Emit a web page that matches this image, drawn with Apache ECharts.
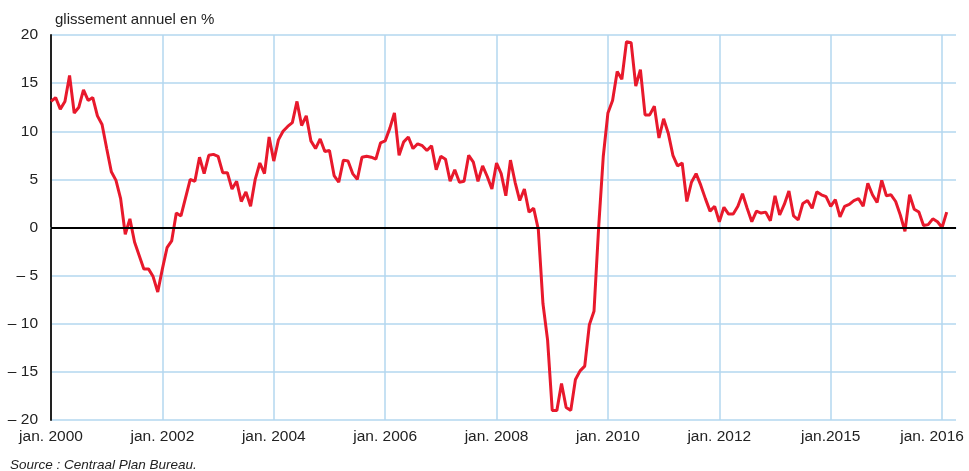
<!DOCTYPE html>
<html>
<head>
<meta charset="utf-8">
<script src="https://cdn.jsdelivr.net/npm/echarts@6/dist/echarts.min.js"></script>
<style>
  html, body { margin: 0; padding: 0; background: #fff; }
  #chart { width: 969px; height: 471px; }
</style>
</head>
<body>
<div id="chart"></div>
<script>
// glissement annuel (%), mensuel, jan. 2000 -> fév. 2016
var values = [
  13.1, 13.5, 12.3, 13.1, 15.8, 11.9, 12.5, 14.3, 13.2, 13.5, 11.6, 10.7,
  8.2, 5.8, 4.9, 3.0, -0.7, 0.9, -1.5, -2.9, -4.3, -4.3, -5.1, -6.7,
  -4.3, -2.1, -1.4, 1.5, 1.2, 3.1, 5.0, 4.8, 7.3, 5.6, 7.5, 7.6,
  7.4, 5.7, 5.7, 4.0, 4.8, 2.7, 3.7, 2.2, 5.0, 6.7, 5.6, 9.4,
  6.9, 9.1, 10.0, 10.5, 10.9, 13.1, 10.6, 11.6, 9.0, 8.2, 9.2, 7.9,
  8.0, 5.4, 4.7, 7.0, 6.9, 5.6, 5.0, 7.3, 7.4, 7.3, 7.1, 8.8,
  9.0, 10.3, 11.9, 7.5, 8.9, 9.4, 8.2, 8.7, 8.5, 8.0, 8.5, 6.0,
  7.4, 7.1, 4.8, 6.0, 4.7, 4.8, 7.5, 6.8, 4.8, 6.4, 5.3, 4.0,
  6.7, 5.6, 3.3, 7.0, 4.7, 2.8, 4.0, 1.6, 2.0, -0.2, -7.9, -11.7,
  -19.0, -19.0, -16.2, -18.7, -19.0, -15.8, -14.9, -14.4, -10.1, -8.7, 0.0, 7.4,
  11.9, 13.2, 16.2, 15.4, 19.3, 19.2, 14.7, 16.4, 11.7, 11.7, 12.6, 9.3,
  11.3, 9.8, 7.5, 6.4, 6.7, 2.7, 4.7, 5.6, 4.4, 3.0, 1.7, 2.2,
  0.6, 2.1, 1.4, 1.4, 2.2, 3.5, 2.0, 0.6, 1.7, 1.5, 1.6, 0.7,
  3.3, 1.3, 2.4, 3.8, 1.2, 0.8, 2.5, 2.8, 2.0, 3.7, 3.4, 3.2,
  2.2, 2.9, 1.1, 2.2, 2.4, 2.8, 3.0, 2.2, 4.6, 3.4, 2.6, 4.9,
  3.3, 3.4, 2.7, 1.3, -0.4, 3.4, 1.9, 1.6, 0.2, 0.3, 0.9, 0.6,
  0.0, 1.6
];
// libellés de l'axe horizontal (tous les 24 mois)
var tickLabels = ['jan. 2000', 'jan. 2002', 'jan. 2004', 'jan. 2006', 'jan. 2008',
                  'jan. 2010', 'jan. 2012', 'jan.2015', 'jan. 2016'];
var nbMonths = 196;

var months = [];
for (var i = 0; i < nbMonths; i++) months.push(i);

var font = '"Liberation Sans", Arial, sans-serif';

var myChart = echarts.init(document.getElementById('chart'));
var option = {
    animation: false,
    title: [
        {
            text: 'glissement annuel en %',
            left: 50, top: 7,
            textStyle: { fontFamily: font, fontSize: 15, fontWeight: 'normal', color: '#222' }
        },
        {
            text: 'Source : Centraal Plan Bureau.',
            left: 5, top: 453,
            textStyle: { fontFamily: font, fontSize: 13.5, fontStyle: 'italic', fontWeight: 'normal', color: '#222' }
        }
    ],
    grid: { left: 51, right: 13, top: 35, bottom: 51, outerBoundsMode: 'none', containLabel: false },
    xAxis: {
        type: 'category',
        boundaryGap: false,
        data: months,
        axisLine: { show: true, lineStyle: { color: '#b3d7ef', width: 1.5 } },
        axisTick: { show: false },
        axisLabel: {
            interval: 23,
            margin: 9,
            fontFamily: font, fontSize: 15.5, color: '#222',
            formatter: function (v, idx) {
                var k = idx / 24;
                if (k === tickLabels.length - 1) return '{last|' + tickLabels[k] + '}';
                return tickLabels[k] || '';
            },
            rich: {
                last: { fontFamily: font, fontSize: 15.5, color: '#222', padding: [0, 20, 0, 0] }
            }
        },
        splitLine: { show: true, interval: 23, lineStyle: { color: '#b3d7ef', width: 1.5 } }
    },
    yAxis: {
        type: 'value',
        min: -20, max: 20, interval: 5,
        axisLine: { show: true, lineStyle: { color: '#222', width: 2 } },
        axisTick: { show: false },
        axisLabel: {
            margin: 13,
            fontFamily: font, fontSize: 15.5, color: '#222',
            formatter: function (v) { return v < 0 ? '\u2013 ' + Math.abs(v) : '' + v; }
        },
        splitLine: { show: true, lineStyle: { color: '#b3d7ef', width: 1.5 } }
    },
    series: [
        {
            type: 'line',
            data: values,
            symbol: 'none',
            lineStyle: { color: '#e8192c', width: 3 },
            markLine: {
                silent: true,
                symbol: 'none',
                label: { show: false },
                lineStyle: { color: '#000', width: 2, type: 'solid' },
                data: [{ yAxis: 0 }]
            }
        }
    ]
};
myChart.setOption(option);
</script>
</body>
</html>
